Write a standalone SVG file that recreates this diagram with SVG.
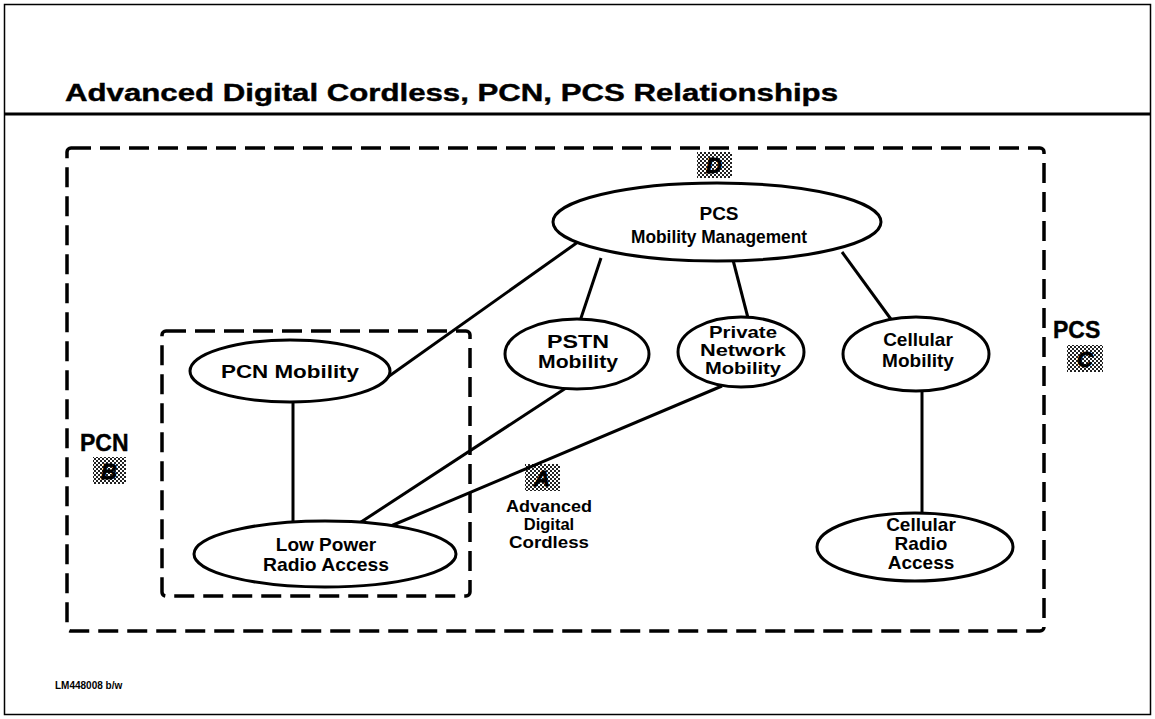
<svg xmlns="http://www.w3.org/2000/svg" width="1155" height="719" viewBox="0 0 1155 719">
<defs>
<pattern id="dots" width="4" height="4" patternUnits="userSpaceOnUse">
<rect width="4" height="4" fill="#fff"/>
<rect x="0" y="0" width="2" height="2" fill="#222"/>
<rect x="2" y="2" width="2" height="2" fill="#222"/>
</pattern>
<style>
text{font-family:"Liberation Sans",Arial,sans-serif;font-weight:bold;fill:#000}
.node{fill:#fff;stroke:#000;stroke-width:3}
.lbl{font-size:19px;text-anchor:middle}
.sm{font-size:16.5px}
.big{font-size:23px;stroke:#000;stroke-width:0.4}
.dash{fill:none;stroke:#000;stroke-width:3.5;stroke-dasharray:20 9;stroke-linejoin:round}
.tag{fill:url(#dots)}
.tagt{font-size:22px;font-style:italic;font-weight:bold;text-anchor:middle;font-family:"Liberation Sans",sans-serif;fill:#000;stroke:#000;stroke-width:0.8}
.conn line{stroke:#000;stroke-width:3}
</style>
</defs>
<rect x="0" y="0" width="1155" height="719" fill="#fff"/>
<rect x="4.5" y="4.5" width="1146" height="710" fill="none" stroke="#000" stroke-width="1.5"/>
<text x="65" y="101" font-size="23" stroke="#000" stroke-width="0.4" textLength="773" lengthAdjust="spacingAndGlyphs">Advanced Digital Cordless, PCN, PCS Relationships</text>
<line x1="5" y1="114" x2="1150" y2="114" stroke="#000" stroke-width="3"/>

<g id="pcs-region">
<rect class="dash" x="67" y="148" width="977" height="483" rx="4"/>
<text class="big" x="1053" y="338">PCS</text>
<rect class="tag" x="1067" y="345" width="36" height="27"/>
<text class="tagt" x="1085" y="367">C</text>
</g>
<g id="pcn-region">
<rect class="dash" x="162" y="331" width="308" height="265" rx="4"/>
<text class="big" x="80" y="451">PCN</text>
<rect class="tag" x="93" y="457" width="33" height="27"/>
<text class="tagt" x="109" y="479">B</text>
</g>
<g id="adc-label">
<rect class="tag" x="525" y="464" width="35" height="27"/>
<text class="tagt" x="542" y="486">A</text>
<text class="lbl sm" x="549" y="512" textLength="86" lengthAdjust="spacingAndGlyphs">Advanced</text>
<text class="lbl sm" x="549" y="530">Digital</text>
<text class="lbl sm" x="549" y="548" textLength="80" lengthAdjust="spacingAndGlyphs">Cordless</text>
</g>

<g class="conn" id="connectors">
<line x1="585" y1="237" x2="378" y2="384"/>
<line x1="601" y1="258" x2="580" y2="321"/>
<line x1="733" y1="260" x2="748" y2="318"/>
<line x1="842" y1="252" x2="893" y2="322"/>
<line x1="293" y1="402" x2="293" y2="523"/>
<line x1="566" y1="388" x2="358" y2="524"/>
<line x1="722" y1="386" x2="386" y2="528"/>
<line x1="922" y1="390" x2="922" y2="514"/>
</g>

<g id="pcs-mm">
<rect class="tag" x="697" y="152" width="35" height="26"/>
<text class="tagt" x="714" y="173">D</text>
<ellipse class="node" cx="717" cy="222" rx="164" ry="39"/>
<text class="lbl" x="719" y="220">PCS</text>
<text class="lbl" x="719" y="243" textLength="176" lengthAdjust="spacingAndGlyphs">Mobility Management</text>
</g>
<g id="pstn">
<ellipse class="node" cx="577" cy="354" rx="72" ry="35"/>
<text class="lbl" x="578" y="348" textLength="62" lengthAdjust="spacingAndGlyphs">PSTN</text>
<text class="lbl" x="578" y="368" textLength="80" lengthAdjust="spacingAndGlyphs">Mobility</text>
</g>
<g id="private">
<ellipse class="node" cx="741" cy="352" rx="63" ry="35"/>
<text class="lbl sm" x="743" y="338" textLength="68" lengthAdjust="spacingAndGlyphs">Private</text>
<text class="lbl sm" x="743" y="356" textLength="86" lengthAdjust="spacingAndGlyphs">Network</text>
<text class="lbl sm" x="743" y="374" textLength="76" lengthAdjust="spacingAndGlyphs">Mobility</text>
</g>
<g id="cellular">
<ellipse class="node" cx="916" cy="354" rx="73" ry="37"/>
<text class="lbl" x="918" y="346">Cellular</text>
<text class="lbl" x="918" y="367">Mobility</text>
</g>
<g id="pcn-mobility">
<ellipse class="node" cx="290" cy="371" rx="100" ry="31"/>
<text class="lbl" x="290" y="378" font-size="20" textLength="138" lengthAdjust="spacingAndGlyphs">PCN Mobility</text>
</g>
<g id="low-power">
<ellipse class="node" cx="325" cy="554" rx="131" ry="33"/>
<text class="lbl" x="326" y="551">Low Power</text>
<text class="lbl" x="326" y="571" textLength="126" lengthAdjust="spacingAndGlyphs">Radio Access</text>
</g>
<g id="cellular-radio">
<ellipse class="node" cx="915" cy="547" rx="98" ry="34"/>
<text class="lbl" x="921" y="531">Cellular</text>
<text class="lbl" x="921" y="550">Radio</text>
<text class="lbl" x="921" y="569">Access</text>
</g>
<text x="55" y="689" font-size="10" font-weight="bold">LM448008 b/w</text>
</svg>
